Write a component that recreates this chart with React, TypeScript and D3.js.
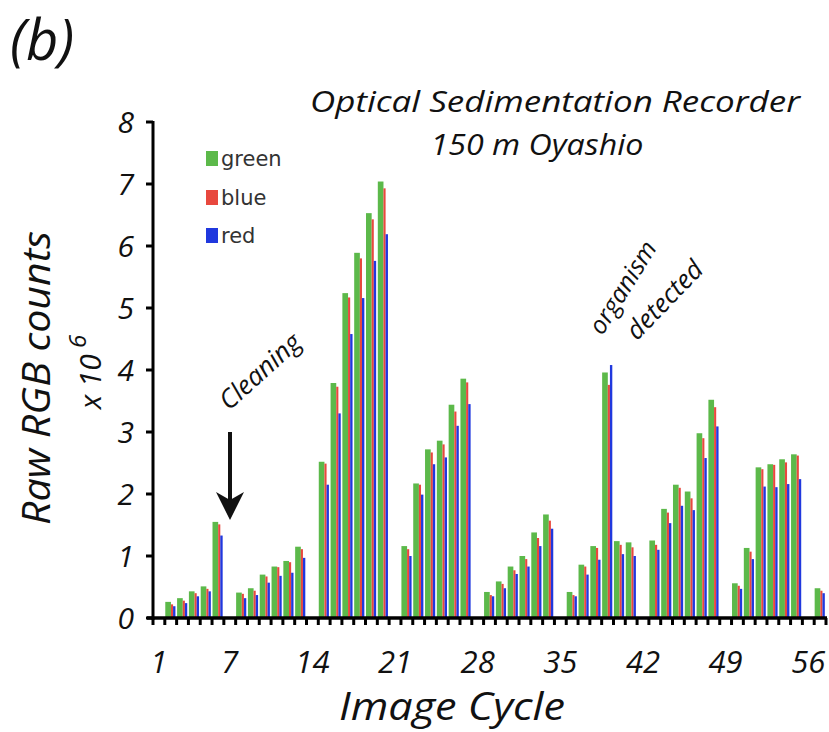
import React from "react";
import * as d3 from "d3";

const cycles: number[] = d3.range(1, 58);
const tickCycles: number[] = [1, 7, 14, 21, 28, 35, 42, 49, 56];
const yTicks: number[] = [0, 1, 2, 3, 4, 5, 6, 7, 8];

// null = no image (cleaning / gaps)
const greenVals: (number | null)[] = [
  null, 0.26, 0.32, 0.43, 0.51, 1.55, null, 0.41, 0.48, 0.70, 0.83, 0.92, 1.15, null,
  2.52, 3.79, 5.24, 5.89, 6.53, 7.04, null, 1.16, 2.17, 2.72, 2.86, 3.44, 3.86, null,
  0.42, 0.59, 0.83, 1.00, 1.38, 1.67, null, 0.42, 0.86, 1.16, 3.96, 1.24, 1.22, null,
  1.25, 1.76, 2.15, 2.04, 2.98, 3.52, null, 0.56, 1.13, 2.43, 2.48, 2.56, 2.64, null, 0.48,
];
const blueVals: (number | null)[] = [
  null, 0.22, 0.28, 0.40, 0.47, 1.51, null, 0.39, 0.44, 0.67, 0.82, 0.90, 1.11, null,
  2.49, 3.73, 5.17, 5.80, 6.43, 6.93, null, 1.11, 2.15, 2.67, 2.80, 3.33, 3.80, null,
  0.37, 0.55, 0.77, 0.95, 1.29, 1.57, null, 0.37, 0.83, 1.13, 3.76, 1.18, 1.14, null,
  1.18, 1.70, 2.10, 1.93, 2.90, 3.40, null, 0.52, 1.07, 2.40, 2.47, 2.51, 2.62, null, 0.44,
];
const redVals: (number | null)[] = [
  null, 0.19, 0.24, 0.35, 0.43, 1.33, null, 0.32, 0.37, 0.57, 0.68, 0.73, 0.97, null,
  2.15, 3.30, 4.58, 5.16, 5.76, 6.19, null, 1.00, 1.99, 2.48, 2.59, 3.10, 3.45, null,
  0.35, 0.48, 0.71, 0.83, 1.16, 1.44, null, 0.35, 0.70, 0.94, 4.08, 1.03, 1.00, null,
  1.10, 1.53, 1.81, 1.74, 2.58, 3.09, null, 0.47, 0.95, 2.12, 2.11, 2.16, 2.24, null, 0.40,
];

const seriesNames = ["green", "blue", "red"];
const seriesColors = ["#5cb94a", "#e8483e", "#2038de"];
const seriesData = [greenVals, blueVals, redVals];

const FONT = "'Open Sans', 'Noto Sans', sans-serif";

export default function App() {
  const W = 829, H = 732;
  const x = d3.scaleBand<number>().domain(cycles).range([153, 826]).padding(0);
  const y = d3.scaleLinear().domain([0, 8]).range([618, 122]);
  const bw = x.bandwidth();
  const offs = [0.04, 0.52, 0.7];
  const wids = [0.48, 0.18, 0.2];

  const bars: JSX.Element[] = [];
  seriesData.forEach((vals, si) => {
    vals.forEach((v, i) => {
      if (v == null) return;
      const c = cycles[i];
      const x0 = (x(c) as number) + offs[si] * bw;
      bars.push(
        <rect key={`${si}-${c}`} x={x0} y={y(v)} width={wids[si] * bw} height={y(0) - y(v)} fill={seriesColors[si]} />
      );
    });
  });

  const boundaries = d3.range(0, cycles.length + 1).map((i) => 153 + i * bw);

  return (
    <div style={{ position: "absolute", left: 0, top: 0 }}>
      <svg width={W} height={H} style={{ display: "block", background: "#fff" }}>
        <text x={10} y={60} fontFamily={FONT} fontStyle="italic" fontSize={56} fill="#111">(b)</text>
        <text x={555} y={112} textAnchor="middle" fontFamily={FONT} fontStyle="italic" fontSize={29} textLength={490} lengthAdjust="spacingAndGlyphs" fill="#111">Optical Sedimentation Recorder</text>
        <text x={537} y={155} textAnchor="middle" fontFamily={FONT} fontStyle="italic" fontSize={29} textLength={213} lengthAdjust="spacingAndGlyphs" fill="#111">150 m Oyashio</text>

        {/* Y axis label */}
        <text transform="translate(50,378) rotate(-90)" textAnchor="middle" fontFamily={FONT} fontStyle="italic" fontSize={38} textLength={294} lengthAdjust="spacingAndGlyphs" fill="#111">Raw RGB counts</text>
        <text transform="translate(101,372) rotate(-90)" textAnchor="middle" fontFamily={FONT} fontStyle="italic" fontSize={30} fill="#111">
          x 10<tspan dy={-15} fontSize={24}> 6</tspan>
        </text>

        {bars}

        {/* Y axis */}
        <line x1={153} x2={153} y1={y(8) - 1} y2={y(0) + 2} stroke="#000" strokeWidth={3} />
        {yTicks.map((t) => (
          <g key={t}>
            <line x1={146} x2={153} y1={y(t)} y2={y(t)} stroke="#000" strokeWidth={3} />
            <text x={134} y={y(t)} dy="0.36em" textAnchor="end" fontFamily={FONT} fontStyle="italic" fontSize={30} fill="#111">{t}</text>
          </g>
        ))}

        {/* X axis */}
        <line x1={147} x2={827} y1={y(0)} y2={y(0)} stroke="#000" strokeWidth={3.5} />
        {boundaries.map((bx, i) => (
          <line key={i} x1={bx} x2={bx} y1={y(0)} y2={y(0) + 7} stroke="#000" strokeWidth={3} />
        ))}
        {tickCycles.map((c) => (
          <text key={c} x={(x(c) as number) + bw / 2} y={673} textAnchor="middle" fontFamily={FONT} fontStyle="italic" fontSize={31} fill="#111">{c}</text>
        ))}
        <text x={452} y={720} textAnchor="middle" fontFamily={FONT} fontStyle="italic" fontSize={39} textLength={226} lengthAdjust="spacingAndGlyphs" fill="#111">Image Cycle</text>

        {/* Legend */}
        {seriesNames.map((n, i) => {
          const by = [166, 205, 243][i];
          return (
            <g key={n}>
              <rect x={206} y={by - 15} width={12} height={15} fill={seriesColors[i]} />
              <text x={221} y={by} fontFamily="'DejaVu Sans', sans-serif" fontSize={21} fill="#333">{n}</text>
            </g>
          );
        })}

        {/* Cleaning annotation */}
        <text transform="translate(266,378) rotate(-42)" textAnchor="middle" fontFamily={FONT} fontStyle="italic" fontSize={26} fill="#111">Cleaning</text>
        <line x1={230} x2={230} y1={432} y2={500} stroke="#111" strokeWidth={4} />
        <path d="M216,492 L230,520 L244,492 L230,500 Z" fill="#111" />

        {/* organism detected */}
        <text transform="translate(630,292) rotate(-58)" textAnchor="middle" fontFamily={FONT} fontStyle="italic" fontSize={25} fill="#111">organism</text>
        <text transform="translate(671,306) rotate(-46)" textAnchor="middle" fontFamily={FONT} fontStyle="italic" fontSize={26} fill="#111">detected</text>
      </svg>
    </div>
  );
}
